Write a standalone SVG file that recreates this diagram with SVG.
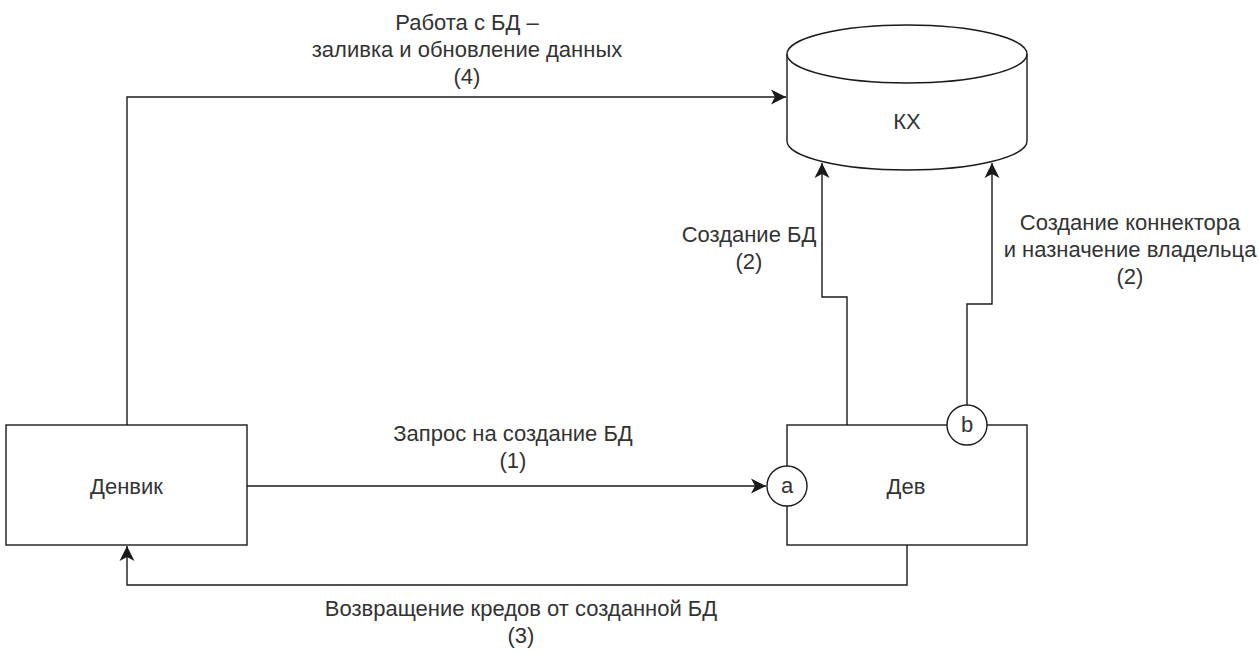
<svg xmlns="http://www.w3.org/2000/svg" width="1259" height="653" viewBox="0 0 1259 653">
<style>
.s{fill:#fff;stroke:#1a1a1a;stroke-width:1.4}
.c{fill:none;stroke:#1a1a1a;stroke-width:1.4}
text{font-family:"Liberation Sans",Arial,sans-serif;font-size:22px;fill:#333;text-anchor:middle;dominant-baseline:central}
</style>
<defs>
<marker id="arr" viewBox="-16 -8 17 16" refX="0" refY="0" markerWidth="17" markerHeight="16" orient="auto" markerUnits="userSpaceOnUse">
<path d="M0,0 L-15,-7.5 L-11,0 L-15,7.5 Z" fill="#1a1a1a"/>
</marker>
</defs>
<rect width="1259" height="653" fill="#fff"/>
<g id="connectors">
<path class="c" d="M247,486 H766" marker-end="url(#arr)"/>
<path class="c" d="M907,545 V585 H127 V546" marker-end="url(#arr)"/>
<path class="c" d="M127,425 V97 H786" marker-end="url(#arr)"/>
<path class="c" d="M847,425 V297 H822 V163" marker-end="url(#arr)"/>
<path class="c" d="M967,405 V304 H992 V163" marker-end="url(#arr)"/>
</g>
<g id="labels">
<text x="467" y="22">Работа с БД –</text>
<text x="467" y="49">заливка и обновление данных</text>
<text x="467" y="76">(4)</text>
<text x="513" y="433">Запрос на создание БД</text>
<text x="513" y="460">(1)</text>
<text x="749" y="234">Создание БД</text>
<text x="749" y="261">(2)</text>
<text x="1130" y="222">Создание коннектора</text>
<text x="1130" y="249">и назначение владельца</text>
<text x="1130" y="276">(2)</text>
<text x="521" y="608">Возвращение кредов от созданной БД</text>
<text x="521" y="635">(3)</text>
</g>
<g id="node-kx">
<path class="s" d="M787,54 A120,29 0 0 1 1027,54 V141 A120,29 0 0 1 787,141 Z"/>
<path class="c" d="M787,54 A120,29 0 0 0 1027,54"/>
<text x="907" y="121">КХ</text>
</g>
<g id="node-denvik">
<rect class="s" x="6" y="425" width="241" height="120"/>
<text x="126.5" y="486">Денвик</text>
</g>
<g id="node-dev">
<rect class="s" x="787" y="425" width="240" height="120"/>
<text x="906" y="486">Дев</text>
</g>
<g id="node-a">
<circle class="s" cx="787" cy="486" r="20"/>
<text x="787" y="485">a</text>
</g>
<g id="node-b">
<circle class="s" cx="967" cy="425" r="20"/>
<text x="967" y="424">b</text>
</g>
</svg>
